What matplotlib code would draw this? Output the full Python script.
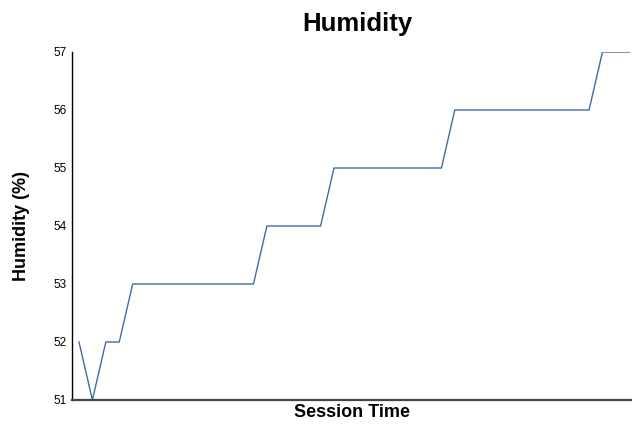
import matplotlib
matplotlib.use("Agg")
import matplotlib.pyplot as plt

plt.rcParams['font.family'] = ['Liberation Sans', 'DejaVu Sans']

session_index = list(range(42))
humidity = [52, 51, 52, 52] + [53] * 10 + [54] * 5 + [55] * 9 + [56] * 11 + [57] * 3
y_ticks = [51, 52, 53, 54, 55, 56, 57]

fig = plt.figure(figsize=(6.32, 4.24), dpi=100)
ax = fig.add_axes([72/632, 24/424, 560/632, 348/424])
ax.plot(session_index, humidity, color='#3f6ba6', linewidth=1.0)
ax.set_xlim(-0.52, 41.2)
ax.set_ylim(51, 57)
ax.set_yticks(y_ticks)
ax.set_yticklabels([str(v) for v in y_ticks], fontsize=8.5)
ax.set_xticks([])
ax.tick_params(axis='y', length=0, pad=4)
for s in ['top', 'right']:
    ax.spines[s].set_visible(False)
ax.spines['left'].set_color('black')
ax.spines['left'].set_linewidth(1.0)
ax.spines['bottom'].set_color('#444444')
ax.spines['bottom'].set_linewidth(1.6)
ax.set_xlabel('Session Time', fontsize=13, fontweight='bold', labelpad=3)
ax.set_ylabel('Humidity (%)', fontsize=13, fontweight='bold', labelpad=17)
fig.text(357/632, 1 - 24/424, 'Humidity', ha='center', va='center', fontsize=18.5, fontweight='bold')
fig.savefig('out.png', dpi=100)
